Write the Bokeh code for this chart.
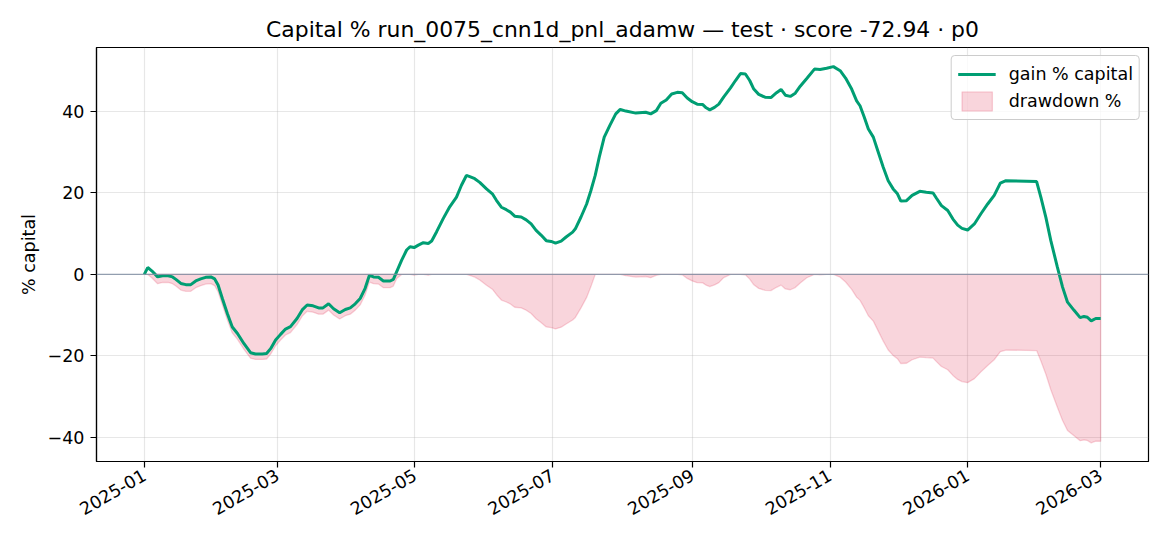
import numpy as np
import pandas as pd
from bokeh.plotting import figure
from bokeh.models import (Range1d, FixedTicker, DatetimeTickFormatter,
                          CustomJSTickFormatter, Span, Legend, LegendItem)
from bokeh.embed import file_html
from bokeh.resources import INLINE

# ---------------- data ----------------
START_DATE = "2025-01-01"

day_offsets = [
    0, 1.5, 3.3, 5.9, 8.1, 10.6, 12.5, 14, 16.2, 18.4, 20.6, 22.8, 25, 27.2,
    29.5, 31.2, 32.7, 34.6, 36.8, 39, 41.3, 44.2, 47.1, 49.3, 52.3, 54.2, 56,
    58.2, 60.4, 62.6, 64.8, 67.7, 70, 72.2, 74.8, 77.3, 79.2, 81.7, 83.9, 86.6,
    89.1, 91.3, 93.5, 95.7, 97.9, 99.8, 101.6, 103.8, 106, 109, 110.4, 111.9,
    114.1, 116.3, 117.8, 119.6, 121.5, 123.7, 125.9, 127.4, 129.6, 132.5,
    135.4, 138.4, 140.6, 142.8, 144.3, 146.5, 148.7, 151.7, 154.3, 156.1,
    158.3, 160.5, 162.3, 164.2, 167.1, 169.3, 171.5, 173.7, 176, 178.2, 180.4,
    182.3, 184.8, 187, 189.9, 191.1, 193.6, 196.1, 198, 199.9, 201.7, 203.9,
    206.4, 209, 211, 213.5, 217.9, 222.3, 224.5, 227, 229, 231.4, 233.8,
    236.3, 238.5, 240.7, 242.9, 245.1, 247.6, 249.1, 250.7, 252.8, 254.7,
    256.9, 259.9, 262.1, 264.3, 266.5, 268.4, 270.2, 272.4, 275.2, 277.8,
    280.3, 282.3, 284.2, 286.4, 288.6, 290.8, 293.7, 297.1, 299.6, 302.5,
    305.5, 308.5, 310.9, 313.6, 315.8, 317.3, 319.2, 321, 323.2, 325.4, 327.6,
    329.8, 332, 333.9, 335.4, 337.9, 340.4, 343.8, 346.7, 349.7, 351.2, 353.4,
    356.2, 358.5, 360.6, 362.5, 365, 368, 370.9, 373.9, 376.8, 379.5, 382,
    395.6, 397.5, 399.7, 401.9, 404.8, 407.1, 409.3, 412.2, 414.9, 416.6,
    418.1, 419.8, 421.8, 424,
]

gain_pct = [
    0.0, 1.7, 0.9, -0.6, -0.3, -0.3, -0.6, -1.2, -2.2, -2.5, -2.5, -1.6, -1.1,
    -0.7, -0.6, -1.1, -2.6, -5.9, -9.6, -12.9, -14.5, -17.0, -19.2, -19.5,
    -19.5, -19.4, -18.2, -16.1, -14.7, -13.4, -12.8, -10.8, -8.7, -7.5, -7.7,
    -8.2, -8.2, -7.2, -8.4, -9.4, -8.6, -8.2, -7.2, -5.9, -3.4, -0.2, -0.6,
    -0.7, -1.6, -1.6, -1.2, 0.7, 3.5, 6.0, 6.8, 6.6, 7.2, 7.8, 7.6, 8.2, 10.5,
    13.7, 16.6, 19.0, 21.9, 24.3, 24.0, 23.5, 22.6, 21.0, 19.8, 18.2, 16.5,
    15.9, 15.3, 14.3, 14.1, 13.4, 12.4, 10.8, 9.6, 8.3, 8.1, 7.7, 8.2, 9.2,
    10.4, 11.2, 14.1, 17.3, 20.6, 24.3, 28.8, 33.7, 36.6, 39.4, 40.5, 40.1,
    39.6, 39.8, 39.4, 40.2, 42.0, 42.8, 44.3, 44.7, 44.6, 43.3, 42.4, 41.8,
    41.7, 40.9, 40.4, 41.0, 41.8, 43.6, 45.8, 47.6, 49.3, 49.2, 47.6, 45.5,
    44.2, 43.5, 43.4, 44.6, 45.4, 44.0, 43.7, 44.5, 46.2, 48.1, 50.4, 50.3,
    50.6, 51.0, 50.0, 48.2, 45.5, 42.6, 41.4, 38.6, 35.7, 33.7, 30.0, 26.3,
    23.0, 21.0, 19.8, 18.0, 18.1, 19.4, 20.4, 20.2, 20.0, 18.7, 16.9, 15.7,
    13.6, 12.1, 11.3, 10.9, 12.4, 14.9, 17.3, 19.4, 22.4, 23.0, 22.8, 18.9,
    14.0, 8.3, 1.8, -3.1, -6.8, -8.8, -10.6, -10.3, -10.5, -11.4, -10.8, -10.8,
]

x_tick_months = ["2025-01", "2025-03", "2025-05", "2025-07",
                 "2025-09", "2025-11", "2026-01", "2026-03"]
y_ticks = [-40, -20, 0, 20, 40]

title_text = "Capital % run_0075_cnn1d_pnl_adamw \u2014 test \u00b7 score -72.94 \u00b7 p0"
y_label = "% capital"
line_label = "gain % capital"
fill_label = "drawdown %"

# ---------------- derived series ----------------
start = pd.Timestamp(START_DATE)
dates = start + pd.to_timedelta(np.array(day_offsets), unit="D")
gain = np.array(gain_pct)
peak = np.maximum.accumulate(np.concatenate([[0.0], gain]))[1:]
drawdown = ((1 + gain / 100.0) / (1 + peak / 100.0) - 1) * 100.0

span_days = day_offsets[-1] - day_offsets[0]
x_start = dates[0] - pd.Timedelta(days=0.05 * span_days)
x_end = dates[-1] + pd.Timedelta(days=0.05 * span_days)

FONT = "DejaVu Sans"
GREEN = "#009E73"
PINK = "crimson"

p = figure(width=1154, height=530, x_axis_type="datetime",
           output_backend="svg", toolbar_location=None,
           x_range=Range1d(x_start, x_end), y_range=Range1d(-45.9, 55.7),
           min_border_left=96, min_border_right=6,
           min_border_top=47, min_border_bottom=69,
           title=title_text)

p.background_fill_color = "white"
p.border_fill_color = "white"
p.outline_line_color = "black"
p.outline_line_alpha = 1.0
p.outline_line_width = 1.2

p.title.text_font = FONT
p.title.text_font_size = "21.9px"
p.title.text_font_style = "normal"
p.title.align = "center"
p.title.text_color = "black"
p.title.standoff = 12

# drawdown area (polygon between drawdown curve and zero)
px = np.concatenate([dates.values, dates.values[::-1]])
py = np.concatenate([drawdown, np.zeros_like(drawdown)])
dd_r = p.patch(px, py, fill_color=PINK, fill_alpha=0.18,
               line_color=PINK, line_alpha=0.18, line_width=1.3)

zero = Span(location=0, dimension="width", line_color="#8391a5",
            line_alpha=0.85, line_width=1.3)
p.add_layout(zero)

line_r = p.line(dates, gain, line_color=GREEN, line_width=3.0)

# axes
xticks = [pd.Timestamp(m + "-01").value // 10**6 for m in x_tick_months]
p.xaxis.ticker = FixedTicker(ticks=xticks)
fmt = "%Y-%m"
p.xaxis.formatter = DatetimeTickFormatter(
    milliseconds=fmt, seconds=fmt, minsec=fmt, minutes=fmt, hourmin=fmt,
    hours=fmt, days=fmt, months=fmt, years=fmt)
p.xaxis.major_label_orientation = np.pi / 6

p.yaxis.ticker = FixedTicker(ticks=y_ticks)
p.yaxis.formatter = CustomJSTickFormatter(
    code="return (tick < 0 ? '\u2212' : '') + Math.abs(tick).toFixed(0);")
p.yaxis.axis_label = y_label

for ax in (p.xaxis, p.yaxis):
    ax.major_label_text_font = FONT
    ax.major_label_text_font_size = "17.5px"
    ax.major_label_text_color = "black"
    ax.axis_label_text_font = FONT
    ax.axis_label_text_font_size = "17.5px"
    ax.axis_label_text_font_style = "normal"
    ax.axis_label_text_color = "black"
    ax.axis_line_color = "black"
    ax.axis_line_width = 1.2
    ax.major_tick_line_color = "black"
    ax.major_tick_line_width = 1.2
    ax.major_tick_out = 6
    ax.major_tick_in = 0
    ax.minor_tick_line_color = None
    ax.major_label_standoff = 6

p.yaxis.axis_label_standoff = 6

for g in (p.xgrid, p.ygrid):
    g.grid_line_color = "#b0b0b0"
    g.grid_line_alpha = 0.3
    g.grid_line_width = 1.2

legend = Legend(items=[LegendItem(label=line_label, renderers=[line_r]),
                       LegendItem(label=fill_label, renderers=[dd_r])],
                location="top_right")
legend.label_text_font = FONT
legend.label_text_font_size = "17.5px"
legend.label_text_color = "black"
legend.border_line_color = "#cccccc"
legend.border_line_alpha = 1.0
legend.border_line_width = 1.2
legend.background_fill_alpha = 0.8
legend.margin = 8
legend.padding = 6
legend.spacing = 3
legend.glyph_width = 38
legend.glyph_height = 24
legend.label_height = 24
legend.label_standoff = 13
if "border_radius" in legend.properties():
    legend.border_radius = 4
p.add_layout(legend)

open("out.html", "w").write(file_html(p, INLINE))
